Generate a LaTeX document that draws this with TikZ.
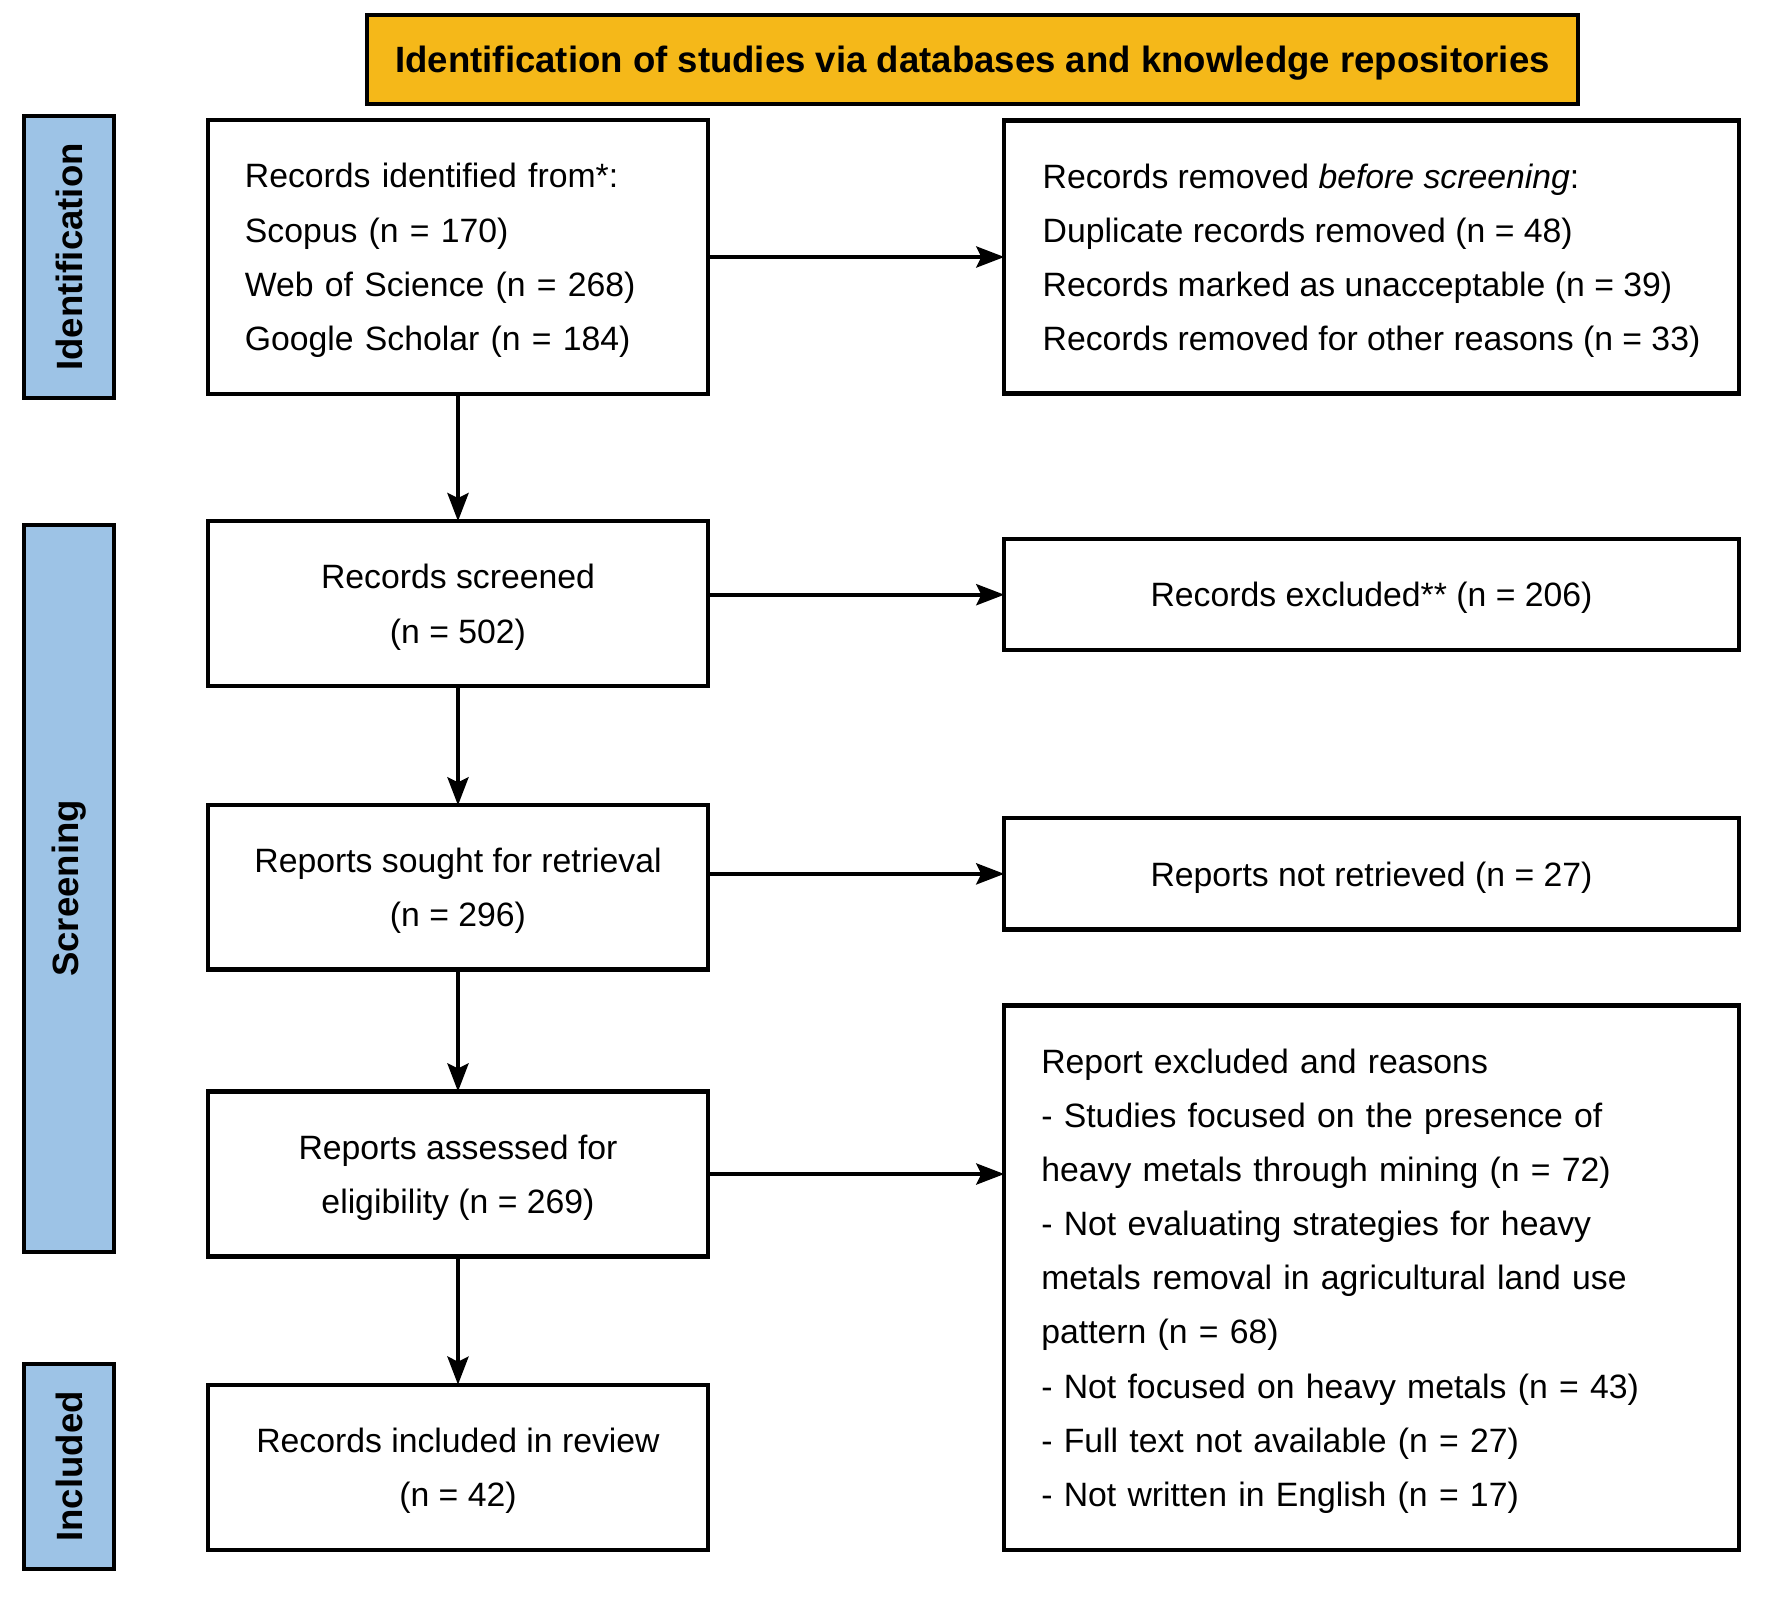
\documentclass[tikz,border=0pt]{standalone}
\usepackage{fontspec}
\setmainfont{Liberation Sans}
\usetikzlibrary{positioning,arrows.meta}
\definecolor{headfill}{HTML}{F5B819}
\definecolor{stagefill}{HTML}{9DC3E6}

\begin{document}
\begin{tikzpicture}[
  x=0.01cm, y=-0.01cm,
  head/.style={draw, fill=headfill, line width=1.2pt, outer sep=0pt, minimum width=12.11cm, minimum height=0.89cm, text depth=0pt, font=\fontsize{10.4}{12}\selectfont\bfseries},
  stage/.style={draw, fill=stagefill, line width=1.2pt, outer sep=0pt, rotate=90, minimum height=0.9cm, inner sep=0pt, font=\fontsize{10.4}{12}\selectfont\bfseries},
  box/.style={draw, line width=1.2pt, outer sep=0pt, inner xsep=0.37cm, inner ysep=0pt, text depth=0pt, font=\fontsize{9.6}{15.4}\selectfont},
  narrow/.style={box, minimum width=5cm},
  wide/.style={box, minimum width=7.34cm},
  arr/.style={-{Stealth[length=0.28cm, width=0.21cm, inset=0.05cm]}, line width=1.2pt},
]
\useasboundingbox (0,0) rectangle (1766,1609);

% Header
\node[head] (title) at (972.5,59.5) {Identification of studies via databases and knowledge repositories};

% Stage labels
\node[stage, minimum width=2.82cm] (sident) at (69,257) {Identification};
\node[stage, minimum width=7.27cm] (sscreen) at (69,888.5) {Screening};
\node[stage, minimum width=2.05cm] (sincl) at (69,1466.5) {Included};

% Main column
\node[narrow, align=left, text width=4.26cm, text depth=46.2pt, minimum height=2.74cm] (ident) at (458,257) {Records identified from*:\\Scopus (n = 170)\\Web of Science (n = 268)\\Google Scholar (n = 184)};
\node[narrow, align=center, minimum height=1.65cm, below=1.27cm of ident] (screen) {Records screened\\(n = 502)};
\node[narrow, align=center, minimum height=1.64cm, below=1.19cm of screen] (sought) {Reports sought for retrieval\\(n = 296)};
\node[narrow, align=center, minimum height=1.65cm, below=1.22cm of sought] (assess) {Reports assessed for\\eligibility (n = 269)};
\node[narrow, align=center, minimum height=1.65cm, below=1.28cm of assess] (incl) {Records included in review\\(n = 42)};

% Side column
\node[wide, align=left, minimum height=2.73cm, right=2.96cm of ident] (removed) {Records removed \textit{before screening}:\\Duplicate records removed (n = 48)\\Records marked as unacceptable (n = 39)\\Records removed for other reasons (n = 33)};
\node[wide, align=center, minimum height=1.11cm, below=1.455cm of removed] (excl) {Records excluded** (n = 206)};
\node[wide, align=center, minimum height=1.11cm, below=1.68cm of excl] (notret) {Reports not retrieved (n = 27)};
\node[wide, align=left, text width=6.6cm, text depth=123.2pt, minimum height=5.44cm, below=0.76cm of notret] (reasons) {Report excluded and reasons\\- Studies focused on the presence of\\heavy metals through mining (n = 72)\\- Not evaluating strategies for heavy\\metals removal in agricultural land use\\pattern (n = 68)\\- Not focused on heavy metals (n = 43)\\- Full text not available (n = 27)\\- Not written in English (n = 17)};

% Flow down
\draw[arr] (ident) -- (screen);
\draw[arr] (screen) -- (sought);
\draw[arr] (sought) -- (assess);
\draw[arr] (assess) -- (incl);

% Exclusions
\draw[arr] (ident.east) -- (removed.west);
\draw[arr] (screen.east |- excl.west) -- (excl.west);
\draw[arr] (sought.east |- notret.west) -- (notret.west);
\draw[arr] (assess.east) -- (assess.east -| reasons.west);
\end{tikzpicture}
\end{document}
